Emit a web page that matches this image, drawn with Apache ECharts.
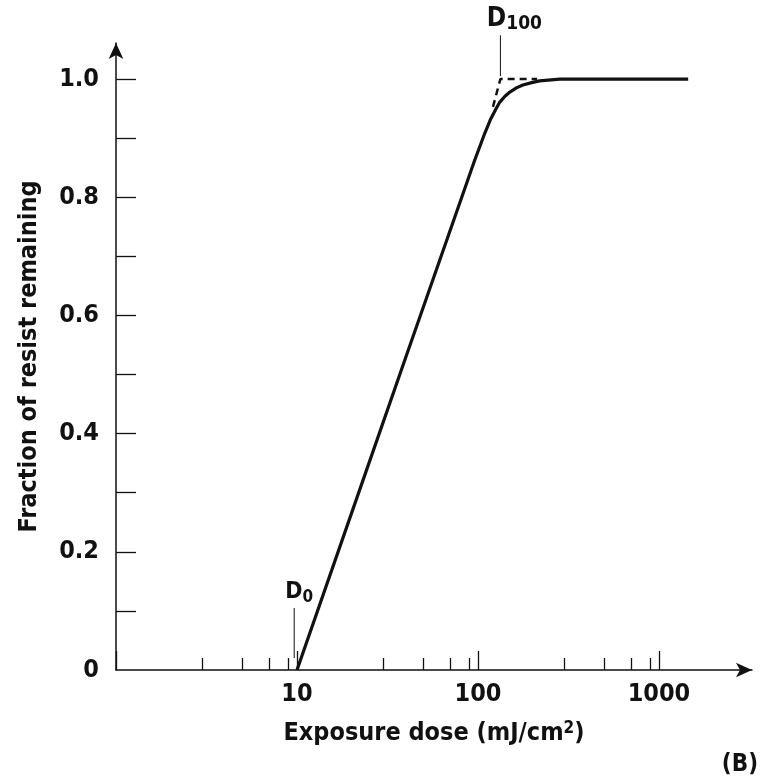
<!DOCTYPE html>
<head>
  <meta charset="utf-8">
  <title>Fraction of resist remaining vs exposure dose</title>
  <script src="https://cdn.jsdelivr.net/npm/echarts@6/dist/echarts.min.js"></script>
  <style>
    html, body { margin: 0; padding: 0; background: #fff; }
  </style>
</head>
<body>
  <div id="main" style="width: 769px;height:782px;"></div>
  <script>
    // values
    var doses     = [10, 20, 40, 70, 96, 108, 117, 125, 132, 141, 150, 163, 177, 198, 219, 283, 400, 1450];
    var remaining = [0, 0.265, 0.53, 0.743, 0.863, 0.905, 0.931, 0.948, 0.961, 0.971, 0.978, 0.985, 0.99, 0.994, 0.997, 1.0, 1.0, 1.0];

    // ideal straight-line extrapolation (dashed)
    var idealDose = [121, 133, 212];
    var idealFrac = [0.953, 1.0, 1.0];

    // marker lines for D0 and D100
    var d0Dose = [9.65, 9.65];
    var d0Frac = [0.02, 0.105];
    var d100Dose = [133, 133];
    var d100Frac = [1.005, 1.074];

    var xMajorTicks = [1, 10, 100, 1000];
    var xMinorTicks = [3, 5, 7, 9, 30, 50, 70, 90, 300, 500, 700, 900];
    var xLabels = [10, 100, 1000];
    var yTicks = [0.1, 0.2, 0.3, 0.4, 0.5, 0.6, 0.7, 0.8, 0.9, 1.0];
    var yLabels = [0, 0.2, 0.4, 0.6, 0.8, 1.0];

    var FONT = '"Liberation Sans Narrow", "DejaVu Sans Condensed", sans-serif';
    var INK = '#111';

    function pairs(xs, ys) {
      return xs.map(function(x, i) { return [x, ys[i]]; });
    }

    var myChart = echarts.init(document.getElementById('main'));

    var option = {
      animation: false,
      textStyle: { fontFamily: FONT },
      title: {
        text: '(B)',
        right: 6,
        bottom: 0,
        textStyle: { fontFamily: FONT, fontWeight: 'bold', fontSize: 24, color: INK }
      },
      grid: {
        left: 116,
        right: 17,
        top: 43,
        bottom: 112,
        containLabel: false
      },
      xAxis: [
        {
          type: 'log',
          logBase: 10,
          position: 'bottom',
          min: 1,
          max: 3266,
          axisLine: {
            show: true,
            symbol: ['none', 'arrow'],
            symbolSize: [11, 16],
            lineStyle: { color: INK, width: 1.5 }
          },
          axisTick: {
            show: true,
            inside: true,
            length: 19,
            customValues: xMajorTicks,
            lineStyle: { color: INK, width: 1.3 }
          },
          axisLabel: {
            show: true,
            customValues: xLabels,
            margin: 12,
            fontFamily: FONT,
            fontWeight: 'bold',
            fontSize: 25,
            color: INK,
            formatter: function(v) { return String(Math.round(v)); }
          },
          splitLine: { show: false },
          minorTick: { show: false },
          name: 'Exposure dose (mJ/cm{sup|2})',
          nameLocation: 'middle',
          nameGap: 50,
          nameTextStyle: {
            fontFamily: FONT,
            fontWeight: 'bold',
            fontSize: 25,
            color: INK,
            rich: {
              sup: {
                fontFamily: FONT,
                fontWeight: 'bold',
                fontSize: 17,
                color: INK,
                padding: [0, 0, 10, 0]
              }
            }
          }
        },
        {
          type: 'log',
          logBase: 10,
          position: 'bottom',
          offset: 0,
          min: 1,
          max: 3266,
          axisLine: { show: false },
          axisTick: {
            show: true,
            inside: true,
            length: 12,
            customValues: xMinorTicks,
            lineStyle: { color: INK, width: 1.3 }
          },
          axisLabel: { show: false },
          splitLine: { show: false }
        }
      ],
      yAxis: {
        type: 'value',
        min: 0,
        max: 1.061,
        axisLine: {
          show: true,
          symbol: ['none', 'arrow'],
          symbolSize: [11, 16],
          lineStyle: { color: INK, width: 1.5 }
        },
        axisTick: {
          show: true,
          inside: true,
          length: 20,
          customValues: yTicks,
          lineStyle: { color: INK, width: 1.3 }
        },
        axisLabel: {
          customValues: yLabels,
          margin: 17,
          fontFamily: FONT,
          fontWeight: 'bold',
          fontSize: 25,
          color: INK,
          formatter: function(v) { return v === 0 ? '0' : v.toFixed(1); }
        },
        splitLine: { show: false },
        name: 'Fraction of resist remaining',
        nameLocation: 'middle',
        nameRotate: 90,
        nameGap: 74,
        nameTextStyle: {
          fontFamily: FONT,
          fontWeight: 'bold',
          fontSize: 25,
          color: INK
        }
      },
      series: [
        {
          type: 'line',
          data: pairs(doses, remaining),
          showSymbol: false,
          symbol: 'none',
          clip: false,
          lineStyle: { color: INK, width: 3.2 }
        },
        {
          type: 'line',
          data: pairs(idealDose, idealFrac),
          showSymbol: false,
          symbol: 'none',
          clip: false,
          lineStyle: { color: INK, width: 2.5, type: [7, 5] }
        },
        {
          type: 'line',
          data: pairs(d0Dose, d0Frac),
          symbol: 'circle',
          symbolSize: 0,
          showSymbol: true,
          clip: false,
          itemStyle: { color: INK },
          lineStyle: { color: INK, width: 1 },
          label: {
            show: true,
            position: 'top',
            distance: 2,
            offset: [5, 0],
            formatter: function(p) { return p.dataIndex === 1 ? '{b|D}{s|0}' : ''; },
            rich: {
              b: { fontFamily: FONT, fontWeight: 'bold', fontSize: 23, color: INK },
              s: { fontFamily: FONT, fontWeight: 'bold', fontSize: 17, color: INK, padding: [10, 0, 0, 0] }
            }
          }
        },
        {
          type: 'line',
          data: pairs(d100Dose, d100Frac),
          symbol: 'circle',
          symbolSize: 0,
          showSymbol: true,
          clip: false,
          itemStyle: { color: INK },
          lineStyle: { color: INK, width: 1 },
          label: {
            show: true,
            position: 'top',
            distance: 2,
            offset: [14, 0],
            formatter: function(p) { return p.dataIndex === 1 ? '{b|D}{s|100}' : ''; },
            rich: {
              b: { fontFamily: FONT, fontWeight: 'bold', fontSize: 26, color: INK },
              s: { fontFamily: FONT, fontWeight: 'bold', fontSize: 19, color: INK, padding: [10, 0, 0, 0] }
            }
          }
        }
      ]
    };

    myChart.setOption(option);
  </script>
</body>
